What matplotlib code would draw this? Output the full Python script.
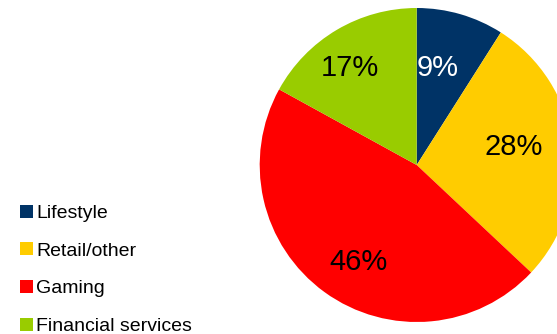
import matplotlib
matplotlib.use("Agg")
import matplotlib.pyplot as plt
import numpy as np

# data
categories = ["Lifestyle", "Retail/other", "Gaming", "Financial services"]
shares = [9, 28, 46, 17]
colors = ["#003366", "#ffcc00", "#ff0000", "#99cc00"]
label_colors = ["white", "black", "black", "black"]
# label placement tweaks (radius fraction, angle shift in degrees)
label_dist = [0.63, 0.63, 0.72, 0.75]
label_shift = [4, 3, 5, 4]

plt.rcParams['font.family'] = ['Liberation Sans', 'DejaVu Sans']

W, H = 557, 334
fig = plt.figure(figsize=(W / 100, H / 100), dpi=100)

# pie axes: centre (416.7, 165) px from top-left, radius 157 px
cx, cy, r = 416.7, 165, 157
ax = fig.add_axes([(cx - r) / W, (H - cy - r) / H, 2 * r / W, 2 * r / H])
wedges, texts, autotexts = ax.pie(
    shares, colors=colors, startangle=90, counterclock=False,
    autopct='%d%%', pctdistance=0.64, radius=1,
    textprops={'fontsize': 21})
for w, t, c, d, s in zip(wedges, autotexts, label_colors, label_dist, label_shift):
    t.set_color(c)
    mid = np.deg2rad((w.theta1 + w.theta2) / 2 + s)
    t.set_position((d * np.cos(mid), d * np.sin(mid)))
ax.set_xlim(-1, 1)
ax.set_ylim(-1, 1)
ax.set_aspect('equal')
ax.axis('off')

fig.legend(wedges, categories, loc='lower left',
           bbox_to_anchor=(20 / W, -1 / H), frameon=False,
           fontsize=14, handlelength=0.67, handleheight=0.67,
           handletextpad=0.15, labelspacing=1.04, borderpad=0,
           borderaxespad=0)

fig.savefig("out.png", dpi=100)
